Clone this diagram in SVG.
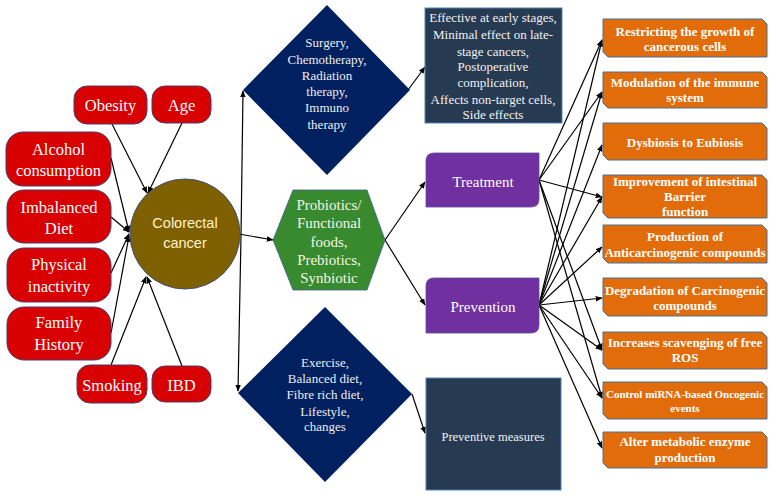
<svg xmlns="http://www.w3.org/2000/svg" width="777" height="499" viewBox="0 0 777 499">
<defs>
<marker id="ah" viewBox="0 0 10 10" refX="9" refY="5" markerWidth="7" markerHeight="7" orient="auto" markerUnits="userSpaceOnUse">
<path d="M0,1 L10,5 L0,9 Z" fill="#000"/>
</marker>
<style>
.risk{fill:#d80000;stroke:#4a3d6b;stroke-width:1}
.rt{font-family:"Liberation Serif","Times New Roman",serif;font-size:16.5px;fill:#fff;text-anchor:middle}
.dia{fill:#002060}
.dt{font-family:"Liberation Serif","Times New Roman",serif;font-size:13px;fill:#eeeeee;text-anchor:middle}
.slate{fill:#263a52;stroke:#4f81bd;stroke-width:1}
.st{font-family:"Liberation Serif","Times New Roman",serif;font-size:13px;fill:#f2f2f2;text-anchor:middle}
.pur{fill:#7030a0;stroke:#5b4a9a;stroke-width:0.8}
.pt{font-family:"Liberation Serif","Times New Roman",serif;font-size:15px;fill:#fff;text-anchor:middle}
.org{fill:#e36c0a;stroke:#4a6f95;stroke-width:1}
.ot{font-family:"Liberation Serif","Times New Roman",serif;font-size:13px;font-weight:bold;fill:#fff;text-anchor:middle}
.ht{font-family:"Liberation Serif","Times New Roman",serif;font-size:15px;fill:#f5f5e8;text-anchor:middle}
.ct{font-family:"Liberation Sans",Arial,sans-serif;font-size:14.5px;fill:#fff2cc;text-anchor:middle}
#connectors line{stroke:#000;stroke-width:1.2;fill:none;marker-end:url(#ah)}
</style>
</defs>
<rect width="777" height="499" fill="#fff"/>

<g id="connectors">
<line x1="112" y1="124" x2="147" y2="193"/>
<line x1="182" y1="123" x2="148" y2="193"/>
<line x1="111" y1="158" x2="129" y2="232"/>
<line x1="111" y1="217" x2="129" y2="232"/>
<line x1="111" y1="273" x2="129" y2="234"/>
<line x1="111" y1="333" x2="129" y2="236"/>
<line x1="111" y1="365" x2="146" y2="277"/>
<line x1="182" y1="366" x2="147" y2="277"/>
<line x1="239" y1="234" x2="273" y2="240"/>
<line x1="241" y1="236" x2="243" y2="91"/>
<line x1="241" y1="236" x2="238" y2="391"/>
<line x1="385" y1="240" x2="425" y2="182"/>
<line x1="385" y1="240" x2="425" y2="305"/>
<line x1="408" y1="90" x2="425" y2="67"/>
<line x1="412" y1="394" x2="425" y2="433"/>
<line x1="539" y1="180" x2="602" y2="40"/>
<line x1="539" y1="180" x2="602" y2="92"/>
<line x1="539" y1="180" x2="602" y2="197"/>
<line x1="539" y1="180" x2="602" y2="350"/>
<line x1="539" y1="180" x2="602" y2="398"/>
<line x1="539" y1="305" x2="602" y2="40"/>
<line x1="539" y1="305" x2="602" y2="92"/>
<line x1="539" y1="305" x2="602" y2="145"/>
<line x1="539" y1="305" x2="602" y2="197"/>
<line x1="539" y1="305" x2="602" y2="247"/>
<line x1="539" y1="305" x2="602" y2="298"/>
<line x1="539" y1="305" x2="602" y2="350"/>
<line x1="539" y1="305" x2="602" y2="398"/>
<line x1="539" y1="305" x2="602" y2="448"/>
</g>

<g id="obesity"><rect class="risk" x="74" y="86" width="73" height="38" rx="13"/><text class="rt" x="110.5" y="111">Obesity</text></g>
<g id="age"><rect class="risk" x="152" y="86" width="59" height="37" rx="13"/><text class="rt" x="181.5" y="111">Age</text></g>
<g id="alcohol"><rect class="risk" x="6" y="132" width="105" height="54" rx="17"/><text class="rt" x="58.5" y="155">Alcohol</text><text class="rt" x="58.5" y="176">consumption</text></g>
<g id="diet"><rect class="risk" x="7" y="190" width="104" height="53" rx="17"/><text class="rt" x="59" y="213">Imbalanced</text><text class="rt" x="59" y="234">Diet</text></g>
<g id="physical"><rect class="risk" x="7" y="248" width="104" height="54" rx="17"/><text class="rt" x="59" y="270">Physical</text><text class="rt" x="59" y="292">inactivity</text></g>
<g id="family"><rect class="risk" x="7" y="307" width="104" height="53" rx="17"/><text class="rt" x="59" y="328">Family</text><text class="rt" x="59" y="350">History</text></g>
<g id="smoking"><rect class="risk" x="77" y="365" width="70" height="38" rx="13"/><text class="rt" x="112" y="391">Smoking</text></g>
<g id="ibd"><rect class="risk" x="152" y="366" width="59" height="36" rx="13"/><text class="rt" x="181.5" y="391">IBD</text></g>

<g id="colorectal"><circle cx="185" cy="234" r="55" fill="#7f6000" stroke="#3f4f7a" stroke-width="1"/><text class="ct" x="185" y="228">Colorectal</text><text class="ct" x="185" y="248">cancer</text></g>

<g id="therapy"><polygon class="dia" points="327,5 410,90 327,175 243,90"/>
<text class="dt" x="327" y="47">Surgery,</text><text class="dt" x="327" y="64">Chemotherapy,</text><text class="dt" x="327" y="80">Radiation</text><text class="dt" x="327" y="96">therapy,</text><text class="dt" x="327" y="112">Immuno</text><text class="dt" x="327" y="129">therapy</text></g>

<g id="lifestyle"><polygon class="dia" points="325,307 412,394 325,482 238,393"/>
<text class="dt" x="325" y="367">Exercise,</text><text class="dt" x="325" y="383">Balanced diet,</text><text class="dt" x="325" y="399">Fibre rich diet,</text><text class="dt" x="325" y="416">Lifestyle,</text><text class="dt" x="325" y="431">changes</text></g>

<g id="probiotics"><polygon points="273,240 293,190 367,190 385,240 367,290 293,290" fill="#388a2e" stroke="#3f5f8a" stroke-width="0.8"/>
<text class="ht" x="329" y="210">Probiotics/</text><text class="ht" x="329" y="228">Functional</text><text class="ht" x="329" y="247">foods,</text><text class="ht" x="329" y="265">Prebiotics,</text><text class="ht" x="329" y="283">Synbiotic</text></g>

<g id="limits"><rect class="slate" x="425" y="8" width="137" height="115"/>
<text class="st" x="493" y="22">Effective at early stages,</text><text class="st" x="493" y="39">Minimal effect on late-</text><text class="st" x="493" y="56">stage cancers,</text><text class="st" x="493" y="71">Postoperative</text><text class="st" x="493" y="87">complication,</text><text class="st" x="493" y="104">Affects non-target cells,</text><text class="st" x="493" y="119">Side effects</text></g>

<g id="treatment"><path class="pur" d="M434,153 H539 V199 Q539,207 531,207 H426 V161 Q426,153 434,153 Z"/><text class="pt" x="483" y="187">Treatment</text></g>
<g id="prevention"><path class="pur" d="M434,278 H539 V325 Q539,333 531,333 H426 V286 Q426,278 434,278 Z"/><text class="pt" x="483" y="312">Prevention</text></g>

<g id="preventive"><rect class="slate" x="426" y="378" width="135" height="112"/><text class="st" x="493" y="441" style="font-size:12.5px">Preventive measures</text></g>

<g id="o1"><path class="org" d="M603,19 H762 L767,24 V57 H608 L603,52 Z"/><text class="ot" x="685" y="36">Restricting the growth of</text><text class="ot" x="685" y="51">cancerous cells</text></g>
<g id="o2"><path class="org" d="M603,72 H762 L767,77 V108 H608 L603,103 Z"/><text class="ot" x="685" y="87">Modulation of the immune</text><text class="ot" x="685" y="102">system</text></g>
<g id="o3"><path class="org" d="M603,123 H762 L767,128 V160 H608 L603,155 Z"/><text class="ot" x="685" y="147">Dysbiosis to Eubiosis</text></g>
<g id="o4"><path class="org" d="M603,175 H762 L767,180 V218 H608 L603,213 Z"/><text class="ot" x="685" y="186">Improvement of intestinal</text><text class="ot" x="685" y="201">Barrier</text><text class="ot" x="685" y="216">function</text></g>
<g id="o5"><path class="org" d="M603,225 H762 L767,230 V263 H608 L603,258 Z"/><text class="ot" x="685" y="241">Production of</text><text class="ot" x="685" y="257">Anticarcinogenic compounds</text></g>
<g id="o6"><path class="org" d="M603,278 H762 L767,283 V316 H608 L603,311 Z"/><text class="ot" x="685" y="295">Degradation of Carcinogenic</text><text class="ot" x="685" y="310">compounds</text></g>
<g id="o7"><path class="org" d="M603,332 H762 L767,337 V369 H608 L603,364 Z"/><text class="ot" x="685" y="347">Increases scavenging of free</text><text class="ot" x="685" y="362">ROS</text></g>
<g id="o8"><path class="org" d="M603,382 H762 L767,387 V419 H608 L603,414 Z"/><text class="ot" x="685" y="398" style="font-size:11px">Control miRNA-based Oncogenic</text><text class="ot" x="685" y="412" style="font-size:11px">events</text></g>
<g id="o9"><path class="org" d="M603,432 H762 L767,437 V468 H608 L603,463 Z"/><text class="ot" x="685" y="446">Alter metabolic enzyme</text><text class="ot" x="685" y="462">production</text></g>
</svg>
